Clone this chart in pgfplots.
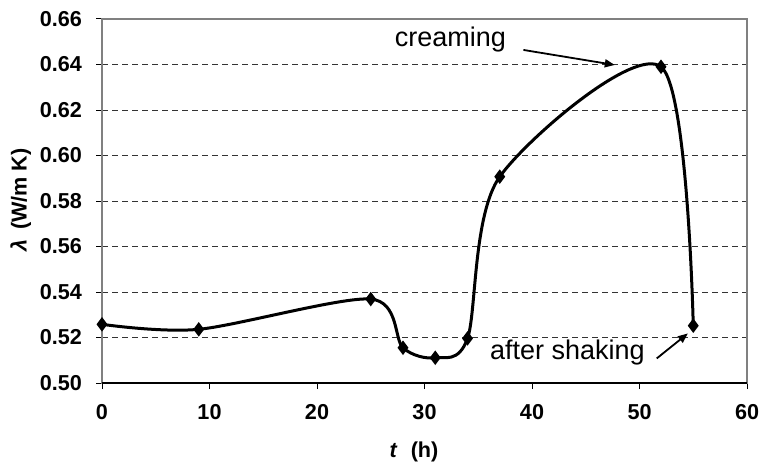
\documentclass[border=0pt]{standalone}
\usepackage{pgfplots}
\pgfplotsset{compat=1.18}
\usepackage{fontspec}
\setmainfont{Liberation Sans}
\usetikzlibrary{arrows.meta}

\begin{document}
\begin{tikzpicture}
\begin{axis}[
  name=ax,
  width=322.5pt, height=182pt,
  scale only axis,
  xmin=0, xmax=60, ymin=0.50, ymax=0.66,
  xtick={0,10,...,60},
  ytick={0.50,0.52,...,0.66},
  yticklabel style={/pgf/number format/fixed, /pgf/number format/fixed zerofill, /pgf/number format/precision=2, xshift=-3.5pt},
  /pgf/number format/assume math mode=true,
  tick label style={font=\bfseries\fontsize{10.8}{13}\selectfont},
  xtick pos=bottom, ytick pos=left,
  tick align=outside,
  major tick length=3pt,
  tick style={black, line width=0.5pt},
  axis line style={draw=gray, line width=0.6pt},
  ymajorgrids,
  major grid style={black!80, line width=0.4pt, dash pattern=on 2.8pt off 2.2pt},
  xticklabel style={yshift=-4pt},
  xlabel={\textbf{\textit{t}\,\, (h)}},
  ylabel={\textbf{\textit{λ}\, (W/m K)}},
  label style={font=\bfseries\fontsize{10.8}{13}\selectfont},
  xlabel style={at={(axis description cs:0.4837,-0.1896)}, anchor=center},
  ylabel style={at={(axis description cs:-0.126,0.503)}, anchor=center},
  clip=false,
]
\addplot[black, line width=1.5pt, smooth, tension=0.5,
  mark=diamond*, mark size=2.4pt, mark options={solid, fill=black}]
  coordinates {
  (0,0.5258) (9,0.5236) (25,0.5369) (28,0.5155) (31,0.5111)
  (34,0.5196) (37,0.5907) (52,0.6390) (55,0.5252)
};
\draw[black, line width=0.6pt] (rel axis cs:0,0) -- (rel axis cs:1,0);
\node[font=\fontsize{13.5}{15}\selectfont] at (axis cs:32.4,0.6508) {creaming};
\draw[black, line width=0.9pt, -{Triangle[length=5pt,width=4pt]}] (axis cs:39.2,0.6464) -- (axis cs:47.7,0.6398);
\node[font=\fontsize{13.5}{15}\selectfont] at (axis cs:43.3,0.5136) {after shaking};
\draw[black, line width=0.9pt, -{Triangle[length=5pt,width=4pt]}] (axis cs:51.6,0.5108) -- (axis cs:54.5,0.5218);
\end{axis}
\pgfresetboundingbox
\path ([xshift=-51pt,yshift=-41.5pt]ax.south west) rectangle ([xshift=6.5pt,yshift=9.5pt]ax.north east);
\end{tikzpicture}
\end{document}
